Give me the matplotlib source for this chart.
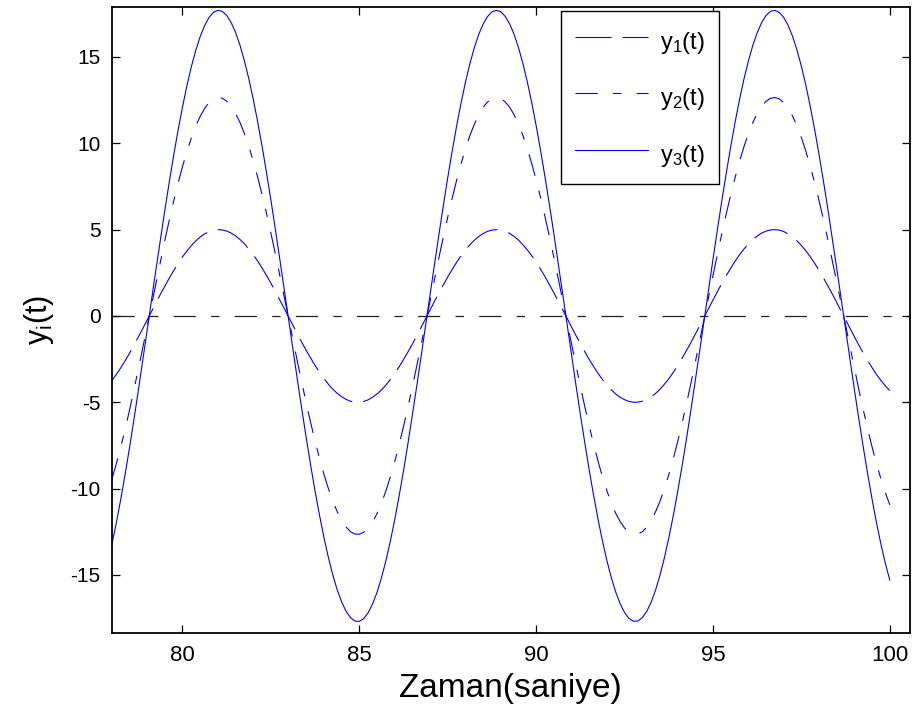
import matplotlib
matplotlib.use("Agg")
import matplotlib.pyplot as plt

plt.rcParams['font.family'] = ['Liberation Sans', 'DejaVu Sans']
plt.rcParams['mathtext.default'] = 'regular'
plt.rcParams['lines.scale_dashes'] = False
plt.rcParams['axes.unicode_minus'] = False

# sample times (s)
t = [78.000, 78.125, 78.250, 78.375, 78.500, 78.625, 78.750, 78.875,
     79.000, 79.125, 79.250, 79.375, 79.500, 79.625, 79.750, 79.875,
     80.000, 80.125, 80.250, 80.375, 80.500, 80.625, 80.750, 80.875,
     81.000, 81.125, 81.250, 81.375, 81.500, 81.625, 81.750, 81.875,
     82.000, 82.125, 82.250, 82.375, 82.500, 82.625, 82.750, 82.875,
     83.000, 83.125, 83.250, 83.375, 83.500, 83.625, 83.750, 83.875,
     84.000, 84.125, 84.250, 84.375, 84.500, 84.625, 84.750, 84.875,
     85.000, 85.125, 85.250, 85.375, 85.500, 85.625, 85.750, 85.875,
     86.000, 86.125, 86.250, 86.375, 86.500, 86.625, 86.750, 86.875,
     87.000, 87.125, 87.250, 87.375, 87.500, 87.625, 87.750, 87.875,
     88.000, 88.125, 88.250, 88.375, 88.500, 88.625, 88.750, 88.875,
     89.000, 89.125, 89.250, 89.375, 89.500, 89.625, 89.750, 89.875,
     90.000, 90.125, 90.250, 90.375, 90.500, 90.625, 90.750, 90.875,
     91.000, 91.125, 91.250, 91.375, 91.500, 91.625, 91.750, 91.875,
     92.000, 92.125, 92.250, 92.375, 92.500, 92.625, 92.750, 92.875,
     93.000, 93.125, 93.250, 93.375, 93.500, 93.625, 93.750, 93.875,
     94.000, 94.125, 94.250, 94.375, 94.500, 94.625, 94.750, 94.875,
     95.000, 95.125, 95.250, 95.375, 95.500, 95.625, 95.750, 95.875,
     96.000, 96.125, 96.250, 96.375, 96.500, 96.625, 96.750, 96.875,
     97.000, 97.125, 97.250, 97.375, 97.500, 97.625, 97.750, 97.875,
     98.000, 98.125, 98.250, 98.375, 98.500, 98.625, 98.750, 98.875,
     99.000, 99.125, 99.250, 99.375, 99.500, 99.625, 99.750, 99.875,
     100.000]

y1 = [-3.75, -3.40, -3.02, -2.61, -2.17, -1.71, -1.23, -0.74,
      -0.24, 0.26, 0.76, 1.25, 1.72, 2.18, 2.62, 3.03,
      3.42, 3.76, 4.07, 4.34, 4.57, 4.75, 4.88, 4.97,
      5.00, 4.98, 4.92, 4.80, 4.64, 4.43, 4.18, 3.88,
      3.55, 3.18, 2.78, 2.35, 1.90, 1.43, 0.94, 0.45,
      -0.05, -0.55, -1.04, -1.53, -2.00, -2.44, -2.87, -3.26,
      -3.62, -3.95, -4.24, -4.48, -4.68, -4.83, -4.94, -4.99,
      -5.00, -4.95, -4.86, -4.71, -4.52, -4.29, -4.01, -3.69,
      -3.34, -2.95, -2.53, -2.09, -1.63, -1.15, -0.65, -0.16,
      0.34, 0.84, 1.33, 1.80, 2.26, 2.69, 3.10, 3.48,
      3.82, 4.12, 4.38, 4.60, 4.77, 4.90, 4.97, 5.00,
      4.98, 4.90, 4.78, 4.61, 4.39, 4.13, 3.83, 3.49,
      3.12, 2.71, 2.28, 1.82, 1.35, 0.86, 0.36, -0.14,
      -0.63, -1.13, -1.61, -2.07, -2.52, -2.93, -3.32, -3.68,
      -4.00, -4.28, -4.52, -4.71, -4.85, -4.95, -5.00, -4.99,
      -4.94, -4.84, -4.69, -4.49, -4.25, -3.96, -3.64, -3.28,
      -2.88, -2.46, -2.01, -1.55, -1.06, -0.57, -0.07, 0.43,
      0.92, 1.41, 1.88, 2.33, 2.76, 3.17, 3.54, 3.87,
      4.17, 4.42, 4.63, 4.80, 4.91, 4.98, 5.00, 4.97,
      4.89, 4.75, 4.58, 4.35, 4.08, 3.78, 3.43, 3.05,
      2.64, 2.20, 1.74, 1.27, 0.78, 0.28, -0.22, -0.72,
      -1.21, -1.69, -2.15, -2.59, -3.00, -3.39, -3.74, -4.05,
      -4.32]

y2 = [-9.49, -8.60, -7.64, -6.59, -5.48, -4.31, -3.11, -1.86,
      -0.61, 0.66, 1.92, 3.15, 4.36, 5.53, 6.63, 7.68,
      8.64, 9.52, 10.30, 10.99, 11.56, 12.01, 12.35, 12.56,
      12.65, 12.61, 12.44, 12.15, 11.74, 11.21, 10.57, 9.83,
      8.98, 8.05, 7.03, 5.95, 4.80, 3.61, 2.38, 1.13,
      -0.13, -1.39, -2.64, -3.86, -5.05, -6.18, -7.25, -8.25,
      -9.17, -9.99, -10.72, -11.33, -11.84, -12.22, -12.49, -12.63,
      -12.64, -12.53, -12.29, -11.93, -11.45, -10.85, -10.15, -9.34,
      -8.45, -7.46, -6.41, -5.29, -4.11, -2.90, -1.65, -0.39,
      0.87, 2.13, 3.36, 4.56, 5.72, 6.81, 7.84, 8.80,
      9.66, 10.43, 11.09, 11.64, 12.08, 12.39, 12.58, 12.65,
      12.59, 12.40, 12.09, 11.66, 11.11, 10.45, 9.69, 8.83,
      7.88, 6.86, 5.76, 4.61, 3.41, 2.17, 0.92, -0.35,
      -1.61, -2.85, -4.07, -5.24, -6.37, -7.42, -8.41, -9.31,
      -10.12, -10.83, -11.43, -11.91, -12.28, -12.52, -12.64, -12.63,
      -12.50, -12.24, -11.85, -11.35, -10.74, -10.02, -9.20, -8.29,
      -7.29, -6.22, -5.09, -3.91, -2.69, -1.44, -0.18, 1.08,
      2.34, 3.56, 4.76, 5.91, 6.99, 8.01, 8.95, 9.79,
      10.55, 11.19, 11.72, 12.14, 12.43, 12.60, 12.65, 12.57,
      12.36, 12.03, 11.58, 11.01, 10.33, 9.55, 8.68, 7.72,
      6.68, 5.57, 4.41, 3.20, 1.96, 0.71, -0.56, -1.82,
      -3.06, -4.27, -5.43, -6.55, -7.60, -8.57, -9.45, -10.25,
      -10.94]

y3 = [-13.27, -12.04, -10.68, -9.22, -7.67, -6.04, -4.35, -2.61,
      -0.85, 0.92, 2.68, 4.41, 6.10, 7.73, 9.28, 10.74,
      12.09, 13.32, 14.42, 15.37, 16.17, 16.81, 17.28, 17.58,
      17.70, 17.64, 17.41, 17.00, 16.43, 15.69, 14.79, 13.75,
      12.57, 11.26, 9.84, 8.32, 6.72, 5.05, 3.33, 1.58,
      -0.18, -1.95, -3.70, -5.41, -7.06, -8.65, -10.15, -11.54,
      -12.83, -13.98, -14.99, -15.86, -16.56, -17.10, -17.47, -17.67,
      -17.69, -17.53, -17.19, -16.69, -16.02, -15.18, -14.20, -13.07,
      -11.82, -10.44, -8.97, -7.40, -5.75, -4.06, -2.32, -0.55,
      1.22, 2.97, 4.70, 6.38, 8.00, 9.53, 10.98, 12.31,
      13.52, 14.59, 15.52, 16.29, 16.90, 17.34, 17.61, 17.70,
      17.62, 17.35, 16.92, 16.32, 15.55, 14.63, 13.56, 12.36,
      11.03, 9.59, 8.06, 6.45, 4.77, 3.04, 1.29, -0.48,
      -2.25, -3.99, -5.69, -7.33, -8.91, -10.39, -11.77, -13.03,
      -14.16, -15.15, -15.99, -16.66, -17.18, -17.52, -17.68, -17.67,
      -17.48, -17.12, -16.59, -15.89, -15.03, -14.02, -12.87, -11.60,
      -10.20, -8.71, -7.13, -5.47, -3.76, -2.02, -0.25, 1.52,
      3.27, 4.99, 6.66, 8.26, 9.78, 11.21, 12.52, 13.71,
      14.75, 15.66, 16.40, 16.98, 17.40, 17.64, 17.70, 17.58,
      17.29, 16.83, 16.20, 15.40, 14.46, 13.37, 12.14, 10.80,
      9.34, 7.79, 6.17, 4.48, 2.75, 0.99, -0.78, -2.54,
      -4.28, -5.97, -7.60, -9.16, -10.63, -11.99, -13.23, -14.34,
      -15.30]

labels = ['y$_1$(t)', 'y$_2$(t)', 'y$_3$(t)']
xticks = [80, 85, 90, 95, 100]
yticks = [-15, -10, -5, 0, 5, 10, 15]

fig = plt.figure(figsize=(9.15, 7.17), dpi=100)
ax = fig.add_axes([0.1221, 0.1172, 0.9945 - 0.1221, 0.9909 - 0.1172])

blue = '#0000ff'
dash_long = (0, (26, 8))
dash_dot = (0, (16, 11, 6, 11))

ax.plot(t, y1, color=blue, lw=0.8, linestyle=dash_long, label=labels[0])
ax.plot(t, y2, color=blue, lw=0.8, linestyle=dash_dot, label=labels[1])
ax.plot(t, y3, color=blue, lw=0.8, linestyle='-', label=labels[2])
ax.axhline(0, color='#222222', lw=0.9, linestyle=dash_dot, zorder=1)

ax.set_xlim(78, 100.57)
ax.set_ylim(-18.36, 17.92)
ax.set_xticks(xticks)
ax.set_yticks(yticks)
ax.tick_params(direction='in', length=6, width=0.9, top=True, right=True,
               labelsize=15, pad=8)
ax.tick_params(axis='x', labelsize=16, pad=9)
for sp in ax.spines.values():
    sp.set_linewidth(1.3)

ax.set_xlabel('Zaman(saniye)', fontsize=24, labelpad=5)
ax.set_ylabel('y$_i$(t)', fontsize=22, labelpad=10)

leg = ax.legend(loc='upper left', bbox_to_anchor=(561 / 915, 1 - 11 / 717),
                bbox_transform=fig.transFigure, fontsize=17, frameon=True,
                fancybox=False, shadow=False, handlelength=3.1,
                handleheight=1.75, handletextpad=0.5, labelspacing=1.0,
                borderpad=0.6, borderaxespad=0)
leg.get_frame().set_edgecolor('black')
leg.get_frame().set_linewidth(1.0)
leg.get_frame().set_alpha(1)

fig.savefig('out.png', dpi=100)
